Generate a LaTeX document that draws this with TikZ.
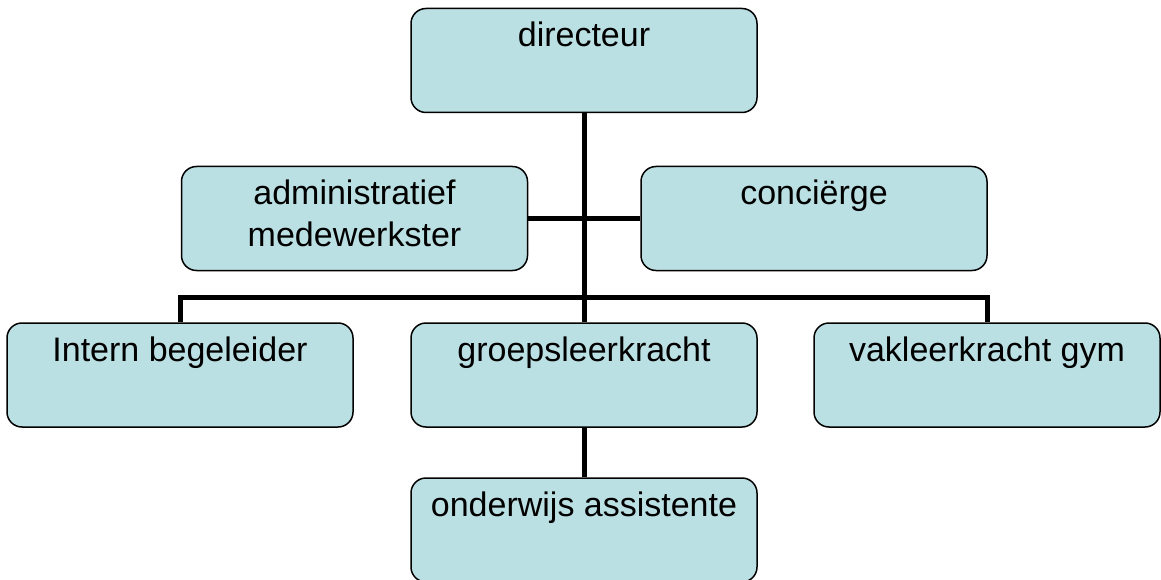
\documentclass[tikz,border=0pt]{standalone}
\usepackage{fontspec}
\setmainfont{Liberation Sans}
\usetikzlibrary{calc}
\definecolor{boxblue}{HTML}{BBE0E3}
\newcommand{\boxtext}[1]{\parbox[c][104pt][t]{340pt}{\centering\rule{0pt}{38pt}#1}}
\tikzset{
	orgbox/.style={draw=black, fill=boxblue, line width=1.5pt, rounded corners=15pt,
		inner sep=0pt, minimum width=346pt, minimum height=104pt,
		font=\fontsize{34}{42}\selectfont},
	link/.style={line width=5pt, draw=black}
}

\begin{document}
\begin{tikzpicture}[x=1pt, y=-1pt]
			%%%%% START %%%%%
			\useasboundingbox (0, 0) rectangle (1161, 580);
			
			\node[orgbox] (dir) at (584, 60.5) {\boxtext{directeur}};
			\node[orgbox] (adm) at (354.5, 218.5) {\boxtext{administratief\\medewerkster}};
			\node[orgbox] (con) at (814, 218.5) {\boxtext{conciërge}};
			
			\node[orgbox] (ib) at (180, 375) {\boxtext{Intern begeleider}};
			\node[orgbox] (grp) at (584, 375) {\boxtext{groepsleerkracht}};
			\node[orgbox] (gym) at (987, 375) {\boxtext{vakleerkracht gym}};
			
			\node[orgbox] (oa) at (584, 530) {\boxtext{onderwijs assistente}};
			
			\coordinate (bus) at ($(dir.south)!0.88!(grp.north)$);
			
			\draw[link] (dir.south) -- (grp.north);
			\draw[link] (adm.east) -- (con.west);
			\draw[link] (ib.north) |- (bus) -| (gym.north);
			\draw[link] (grp.south) -- (oa.north);
			
			%%%%% END %%%%%
		\end{tikzpicture}
\end{document}
